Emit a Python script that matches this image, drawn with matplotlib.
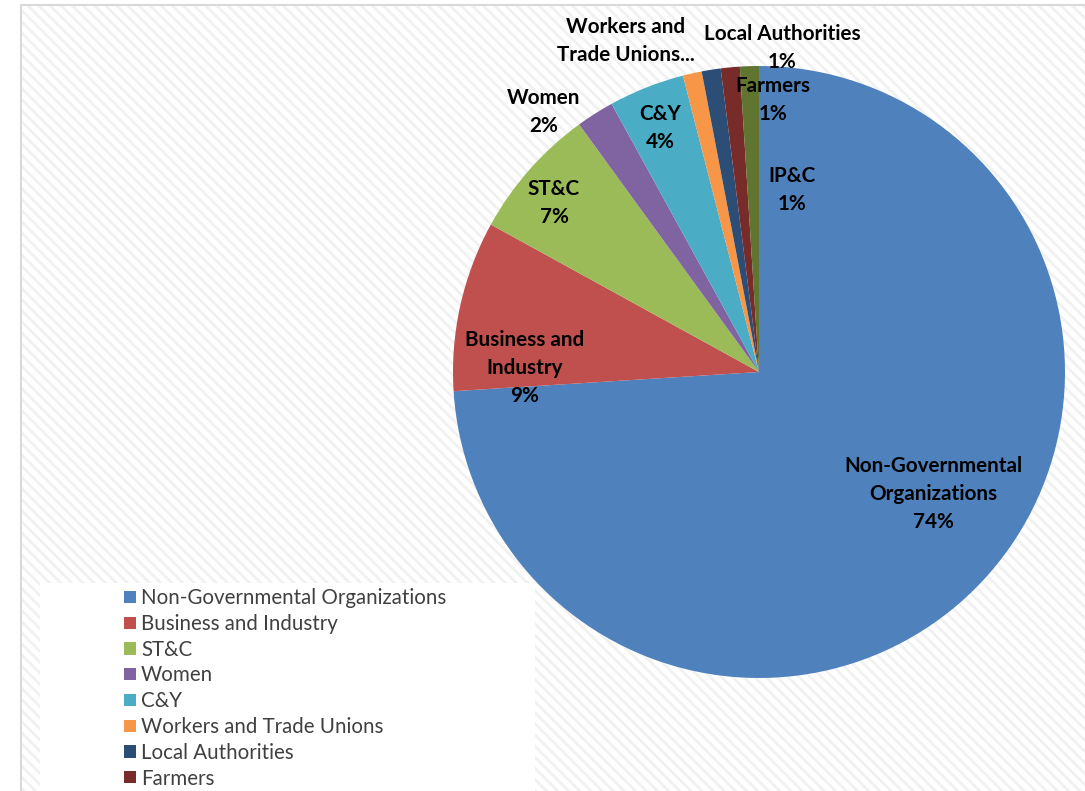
import matplotlib.pyplot as plt
from matplotlib.patches import Rectangle

plt.rcParams['font.family'] = ['Lato', 'DejaVu Sans']
plt.rcParams['hatch.linewidth'] = 2.0

# data
groups = ["Non-Governmental Organizations", "Business and Industry", "ST&C", "Women", "C&Y",
          "Workers and Trade Unions", "Local Authorities", "Farmers", "IP&C"]
shares = [74, 9, 7, 2, 4, 1, 1, 1, 1]
short_names = ["Non-Governmental\nOrganizations", "Business and\nIndustry", "ST&C", "Women", "C&Y",
               "Workers and\nTrade Unions...", "Local Authorities", "Farmers", "IP&C"]
show_pct = [True, True, True, True, True, False, True, True, True]
colors = ["#4F81BD", "#C0504D", "#9BBB59", "#8064A2", "#4BACC6",
          "#F79646", "#2C4D75", "#772C2A", "#5F7530"]

# where each data label sits (pie radius = 1)
label_xy = [(0.569, -0.399), (-0.765, 0.013), (-0.670, 0.552), (-0.703, 0.849), (-0.324, 0.797),
            (-0.435, 1.081), (0.075, 1.058), (0.046, 0.888), (0.108, 0.594)]

W, H = 1085, 791
fig = plt.figure(figsize=(W / 100, H / 100), dpi=100)

# striped chart area with a light border
bg = Rectangle((21 / W, -0.1), 1.2, 1.1 - 5 / H, transform=fig.transFigure,
               facecolor="white", edgecolor="#f1f1f1", linewidth=0, hatch="\\\\\\", zorder=-2)
fig.patches.append(bg)
frame = Rectangle((21 / W, -0.1), 1.2, 1.1 - 5 / H, transform=fig.transFigure,
                  facecolor="none", edgecolor="#d9d9d9", linewidth=1.5, zorder=-1)
fig.patches.append(frame)

# pie centre (759, 372) px, radius 306 px
cx, cy, r = 759, 372, 306
ax = fig.add_axes([(cx - r) / W, (H - cy - r) / H, 2 * r / W, 2 * r / H])
ax.set_zorder(3)
wedges, _ = ax.pie(shares, colors=colors, startangle=90, counterclock=False,
                   wedgeprops=dict(linewidth=0))
ax.set_xlim(-1, 1)
ax.set_ylim(-1, 1)
ax.set_aspect("equal")
ax.axis("off")

for name, s, show, (x, y) in zip(short_names, shares, show_pct, label_xy):
    txt = name + ("\n%d%%" % s if show else "")
    ax.text(x, y, txt, ha="center", va="center", fontsize=14.9, fontweight="bold",
            color="black", linespacing=1.52, clip_on=False)

# legend panel, cut off by the bottom of the image (only 8 rows fit)
fig.patches.append(Rectangle((40 / W, -0.1), 495 / W, 0.1 + (H - 583) / H,
                             transform=fig.transFigure, facecolor="white",
                             edgecolor="none", zorder=1))
leg = fig.legend(wedges[:8], groups[:8], loc="upper left", bbox_to_anchor=(116 / W, (H - 580) / H),
                 frameon=False, fontsize=14.8, handlelength=0.55, handleheight=0.55,
                 handletextpad=0.27, labelspacing=0.28, borderaxespad=0)
for t in leg.get_texts():
    t.set_color("#404040")
leg.set_zorder(2)

fig.savefig("out.png", dpi=100)
